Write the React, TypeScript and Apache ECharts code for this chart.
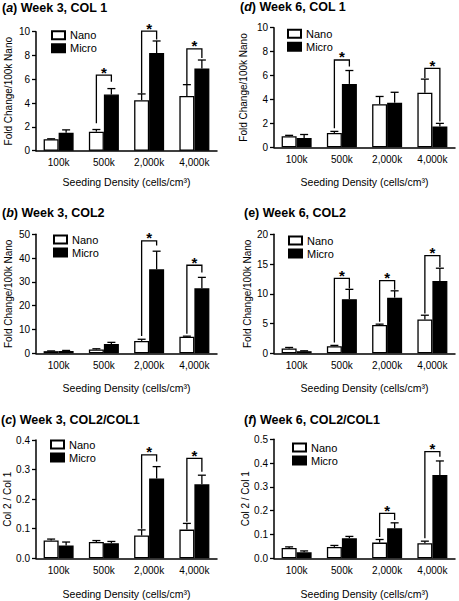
import React, { useEffect, useRef } from 'react';
import * as echarts from 'echarts';

const categories = ['100k', '500k', '2,000k', '4,000k'];
const seriesNames = ['Nano', 'Micro'];
const xTitle = 'Seeding Density (cells/cm³)';
const yTitleFold = 'Fold Change/100k Nano';
const yTitleRatio = 'Col 2 / Col 1';

// (a) Week 3, COL 1
const nanoA = [0.97, 1.6, 4.25, 4.6];
const nanoAErr = [1.0, 1.78, 4.77, 5.55];
const microA = [1.5, 4.72, 8.2, 6.9];
const microAErr = [1.75, 5.22, 9.22, 7.62];
const bracketsA = [[1, 6.35, 2.3, 5.8], [2, 10.05, 4.8, 9.35], [3, 8.55, 5.6, 7.8]];

// (b) Week 3, COL2
const nanoB = [0.9, 1.6, 5.2, 7.0];
const nanoBErr = [1.0, 1.9, 5.9, 7.2];
const microB = [1.0, 3.9, 35.3, 27.3];
const microBErr = [1.2, 4.6, 42.9, 31.9];
const bracketsB = [[2, 47.2, 7.3, 45.3], [3, 37.0, 8.2, 34.0]];

// (c) Week 3, COL2/COL1
const nanoC = [0.06, 0.055, 0.077, 0.097];
const nanoCErr = [0.065, 0.06, 0.096, 0.118];
const microC = [0.043, 0.051, 0.27, 0.25];
const microCErr = [0.055, 0.057, 0.31, 0.281];
const bracketsC = [[2, 0.35, 0.1, 0.327], [3, 0.338, 0.124, 0.293]];

// (d) Week 6, COL 1
const nanoD = [0.92, 1.2, 3.6, 4.57];
const nanoDErr = [1.0, 1.33, 4.25, 5.7];
const microD = [0.78, 5.3, 3.73, 1.73];
const microDErr = [1.07, 6.42, 4.6, 2.0];
const bracketsD = [[1, 7.3, 1.6, 6.75], [3, 6.6, 5.8, 2.15]];

// (e) Week 6, COL2
const nanoE = [0.82, 1.2, 4.75, 5.7];
const nanoEErr = [0.98, 1.33, 4.9, 6.4];
const microE = [0.35, 9.1, 9.35, 12.15];
const microEErr = [0.42, 10.75, 10.5, 14.3];
const bracketsE = [[1, 12.6, 1.8, 10.9], [2, 12.2, 5.3, 10.7], [3, 16.4, 6.7, 14.5]];

// (f) Week 6, COL2/COL1
const nanoF = [0.043, 0.048, 0.066, 0.063];
const nanoFErr = [0.048, 0.054, 0.079, 0.072];
const microF = [0.025, 0.084, 0.126, 0.35];
const microFErr = [0.031, 0.092, 0.149, 0.409];
const bracketsF = [[2, 0.189, 0.09, 0.161], [3, 0.448, 0.084, 0.427]];

const panels = [
  { letter: 'a', italic: true, title: ' Week 3, COL 1', yName: yTitleFold, yMax: 10, yStep: 2, decimals: 0, nano: nanoA, nanoErr: nanoAErr, micro: microA, microErr: microAErr, brackets: bracketsA },
  { letter: 'b', italic: true, title: ' Week 3, COL2', yName: yTitleFold, yMax: 50, yStep: 10, decimals: 0, nano: nanoB, nanoErr: nanoBErr, micro: microB, microErr: microBErr, brackets: bracketsB },
  { letter: 'c', italic: true, title: ' Week 3, COL2/COL1', yName: yTitleRatio, yMax: 0.4, yStep: 0.1, decimals: 1, nano: nanoC, nanoErr: nanoCErr, micro: microC, microErr: microCErr, brackets: bracketsC },
  { letter: 'd', italic: true, title: ' Week 6, COL 1', yName: yTitleFold, yMax: 10, yStep: 2, decimals: 0, nano: nanoD, nanoErr: nanoDErr, micro: microD, microErr: microDErr, brackets: bracketsD },
  { letter: 'e', italic: false, title: ' Week 6, COL2', yName: yTitleFold, yMax: 20, yStep: 5, decimals: 0, nano: nanoE, nanoErr: nanoEErr, micro: microE, microErr: microEErr, brackets: bracketsE },
  { letter: 'f', italic: true, title: ' Week 6, COL2/COL1', yName: yTitleRatio, yMax: 0.5, yStep: 0.1, decimals: 1, nano: nanoF, nanoErr: nanoFErr, micro: microF, microErr: microFErr, brackets: bracketsF },
];

// layout (pixels)
const layouts = [
  { left: 36, top: 31.7, height: 119, titleX: 2, titleY: 1, legendX: 51, legendY: 29.7, yNameGap: 23, xNameGap: 26 },
  { left: 36, top: 234.3, height: 119, titleX: 2, titleY: 206, legendX: 53, legendY: 234, yNameGap: 23, xNameGap: 29 },
  { left: 36, top: 440, height: 118.3, titleX: 1, titleY: 413, legendX: 50, legendY: 439, yNameGap: 23, xNameGap: 30 },
  { left: 274, top: 27.7, height: 119.6, titleX: 240, titleY: 0, legendX: 287, legendY: 28.3, yNameGap: 26, xNameGap: 29 },
  { left: 274, top: 234.3, height: 119, titleX: 244, titleY: 206, legendX: 288, legendY: 235, yNameGap: 22, xNameGap: 29 },
  { left: 274, top: 439.3, height: 119, titleX: 244, titleY: 413, legendX: 292, legendY: 442, yNameGap: 22, xNameGap: 30 },
];

const FONT = '"Liberation Sans", Arial, Helvetica, sans-serif';
const GRID_W = 181;
const BAR_W = 15;
const CAP = 4;
const LW = 1.3;

function errorSeries(gi: number, vals: number[], tops: number[], offset: number) {
  return {
    type: 'custom',
    xAxisIndex: gi,
    yAxisIndex: gi,
    silent: true,
    clip: false,
    z: 5,
    encode: { x: 0, y: [1, 2] },
    data: vals.map((v, i) => [i, v, tops[i]]),
    renderItem: (_p: any, api: any) => {
      const c = api.value(0);
      const b = api.coord([c, api.value(1)]);
      const t = api.coord([c, api.value(2)]);
      const x = b[0] + offset;
      const st = { stroke: '#000', lineWidth: LW };
      return {
        type: 'group',
        children: [
          { type: 'line', shape: { x1: x, y1: b[1], x2: x, y2: t[1] }, style: st },
          { type: 'line', shape: { x1: x - CAP, y1: t[1], x2: x + CAP, y2: t[1] }, style: st },
        ],
      };
    },
  };
}

function bracketSeries(gi: number, brackets: number[][]) {
  return {
    type: 'custom',
    xAxisIndex: gi,
    yAxisIndex: gi,
    silent: true,
    clip: false,
    z: 6,
    encode: { x: 0, y: [1, 2, 3] },
    data: brackets,
    renderItem: (_p: any, api: any) => {
      const c = api.value(0);
      const top = api.coord([c, api.value(1)]);
      const l = api.coord([c, api.value(2)]);
      const r = api.coord([c, api.value(3)]);
      const xl = top[0] - BAR_W / 2;
      const xr = top[0] + BAR_W / 2;
      return {
        type: 'group',
        children: [
          {
            type: 'polyline',
            shape: { points: [[xl, l[1]], [xl, top[1]], [xr, top[1]], [xr, r[1]]] },
            style: { stroke: '#000', lineWidth: LW, fill: null },
          },
          {
            type: 'text',
            x: top[0],
            y: top[1] - 3,
            style: { text: '*', fill: '#000', font: 'bold 15px ' + FONT, align: 'center', verticalAlign: 'middle' },
          },
        ],
      };
    },
  };
}

export default function App() {
  const ref = useRef<HTMLDivElement>(null);
  useEffect(() => {
    document.body.style.margin = '0';
    if (!ref.current) return;
    const chart = echarts.init(ref.current, undefined, { renderer: 'svg' });

    const grid: any[] = [];
    const xAxis: any[] = [];
    const yAxis: any[] = [];
    const title: any[] = [];
    const legend: any[] = [];
    const series: any[] = [];

    panels.forEach((p, gi) => {
      const L = layouts[gi];
      grid.push({ left: L.left, top: L.top, width: GRID_W, height: L.height });
      xAxis.push({
        type: 'category',
        gridIndex: gi,
        data: categories,
        axisLine: { lineStyle: { color: '#000', width: 1.5 } },
        axisTick: { show: false },
        axisLabel: { color: '#000', fontSize: 10, fontFamily: FONT, margin: 7 },
        name: xTitle,
        nameLocation: 'middle',
        nameGap: L.xNameGap,
        nameTextStyle: { color: '#000', fontSize: 10.5, fontFamily: FONT },
      });
      yAxis.push({
        type: 'value',
        gridIndex: gi,
        min: 0,
        max: p.yMax,
        interval: p.yStep,
        axisLine: { show: true, lineStyle: { color: '#000', width: 1.5 } },
        axisTick: { show: true, length: 4, lineStyle: { color: '#000', width: LW } },
        splitLine: { show: false },
        axisLabel: {
          color: '#000',
          fontSize: 10,
          fontFamily: FONT,
          margin: 6,
          formatter: (v: number) => v.toFixed(p.decimals),
        },
        name: p.yName,
        nameLocation: 'middle',
        nameGap: L.yNameGap,
        nameTextStyle: { color: '#000', fontSize: 10, fontFamily: FONT },
      });
      title.push({
        left: L.titleX,
        top: L.titleY,
        padding: 0,
        text: p.italic ? '({it|' + p.letter + '})' + p.title : '(' + p.letter + ')' + p.title,
        textStyle: {
          color: '#000',
          fontSize: 12.5,
          fontWeight: 'bold',
          fontFamily: FONT,
          lineHeight: 14,
          rich: {
            it: { fontStyle: 'italic', fontWeight: 'bold', fontSize: 12.5, fontFamily: FONT, color: '#000', lineHeight: 14 },
          },
        },
      });
      legend.push({
        left: L.legendX,
        top: L.legendY,
        orient: 'vertical',
        padding: 0,
        itemGap: 2,
        itemWidth: 13,
        itemHeight: 8,
        icon: 'rect',
        selectedMode: false,
        data: seriesNames,
        textStyle: { color: '#000', fontSize: 11, fontFamily: FONT, lineHeight: 10 },
      });
      series.push({
        type: 'bar',
        name: 'Nano',
        xAxisIndex: gi,
        yAxisIndex: gi,
        data: p.nano,
        barWidth: BAR_W,
        barGap: '0%',
        itemStyle: { color: '#fff', borderColor: '#000', borderWidth: LW },
      });
      series.push({
        type: 'bar',
        name: 'Micro',
        xAxisIndex: gi,
        yAxisIndex: gi,
        data: p.micro,
        barWidth: BAR_W,
        barGap: '0%',
        itemStyle: { color: '#000', borderColor: '#000', borderWidth: LW },
      });
      series.push(errorSeries(gi, p.nano, p.nanoErr, -BAR_W / 2));
      series.push(errorSeries(gi, p.micro, p.microErr, BAR_W / 2));
      series.push(bracketSeries(gi, p.brackets));
    });

    chart.setOption({
      animation: false,
      backgroundColor: '#fff',
      textStyle: { fontFamily: FONT },
      grid,
      xAxis,
      yAxis,
      title,
      legend,
      series,
    });
    return () => chart.dispose();
  }, []);
  return <div ref={ref} style={{ width: 459, height: 601 }} />;
}
